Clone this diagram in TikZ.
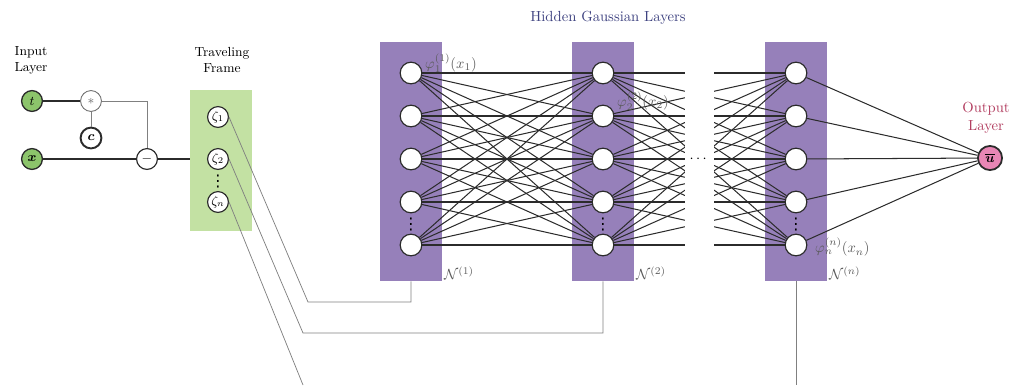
\documentclass[tikz,border=0pt]{standalone}
\usepackage{amsmath,amssymb,bm}
\usepackage{fontspec}
\newfontfamily\dotsfont{DejaVu Sans}
\usetikzlibrary{calc}
\definecolor{inpgreen}{HTML}{8CC46B}
\definecolor{framegreen}{HTML}{C3E1A3}
\definecolor{layerpurple}{HTML}{9680BA}
\definecolor{outpink}{HTML}{E886B5}
\definecolor{titlenavy}{HTML}{3E4280}
\definecolor{outred}{HTML}{B23E60}
\definecolor{linkgray}{HTML}{808080}
\definecolor{edgedark}{HTML}{2B2B2B}
\definecolor{lblgray}{HTML}{5A5A5A}

\begin{document}
\begin{tikzpicture}[
  x=0.24mm, y=-0.24mm,
  innode/.style={circle, draw=edgedark, line width=0.9pt, fill=inpgreen, minimum size=5.0mm, inner sep=0pt, font=\small},
  opnode/.style={circle, draw=edgedark, line width=0.8pt, fill=white, minimum size=5.0mm, inner sep=0pt, font=\small},
  zetanode/.style={circle, draw=edgedark, line width=0.8pt, fill=white, minimum size=5.0mm, inner sep=0pt, font=\small},
  hidnode/.style={circle, draw=edgedark, line width=0.8pt, fill=white, minimum size=5.2mm, inner sep=0pt},
  layerbox/.style={fill=layerpurple, draw=none, minimum width=14.9mm, minimum height=57.4mm, inner sep=0pt},
  hidedge/.style={edgedark, line width=0.7pt},
  linkline/.style={linkgray, line width=0.5pt},
  headlbl/.style={font=\small, align=center, text=black},
  philbl/.style={text=lblgray, inner sep=1pt},
  dotlbl/.style={inner sep=0pt, font=\dotsfont\fontsize{11}{11}\selectfont},
]

% Canvas
\useasboundingbox (0,0) rectangle (1021,385);

% Input layer
\node[headlbl] (inlbl) at (31,60) {Input\\Layer};
\node[innode] (t) at (32,101) {$t$};
\node[innode] (x) at (32,159) {$\boldsymbol{x}$};
\node[opnode, draw=edgedark!70, line width=0.6pt, text=black!60] (star) at (91,101) {$*$};
\node[opnode, line width=1.3pt] (c) at (91,138) {$\boldsymbol{c}$};
\node[opnode] (minus) at (147,159) {$-$};

\draw[hidedge] (t) -- (star);
\draw[linkline] (star) -- (c);
\draw[linkline] (star.east) -| (minus.north);
\draw[hidedge] (x) -- (minus);

% Traveling frame
\node[headlbl] (framelbl) at (222,60) {Traveling\\Frame};
\node[fill=framegreen, minimum width=14.9mm, minimum height=33.8mm, inner sep=0pt] (frame) at (221,160.5) {};
\draw[hidedge] (minus.east) -- (minus.east -| frame.west);
\node[zetanode] (z1) at (218,117) {$\zeta_1$};
\node[zetanode] (z2) at (218,159) {$\zeta_2$};
\node[zetanode] (zn) at (218,202) {$\zeta_n$};
\node[dotlbl] (zdots) at (218,181) {⋮};

% Hidden Gaussian layers
\node[text=titlenavy] (hidlbl) at (608,18) {Hidden Gaussian Layers};
\foreach \l/\xx in {1/411, 2/603, n/796} {
  \node[layerbox] (L\l) at (\xx,161.5) {};
  \foreach \i/\yy in {1/73, 2/116, 3/159, 4/202, 5/245}
    \node[hidnode] (h\l-\i) at (\xx,\yy) {};
  \node[dotlbl] (d\l) at (\xx,224) {⋮};
  \node[anchor=south west, inner sep=1pt, text=lblgray] (N\l) at (L\l.south east) {$\mathcal{N}^{(\l)}$};
}

% Full connections
\foreach \i in {1,...,5}
  \foreach \j in {1,...,5} {
    \draw[hidedge] (h1-\i) -- (h2-\j);
    \draw[hidedge] (h2-\i) -- (hn-\j);
  }

% Gap with dots
\node[fill=white, minimum width=7.0mm, minimum height=48mm, inner sep=0pt] (gap) at (699.5,159) {$\cdots$};

% Node labels
\node[philbl, anchor=west] (phi1) at ($(h1-1.east)+(1,-10)$) {$\varphi_1^{(1)}(x_1)$};
\node[philbl, anchor=west] (phi2) at ($(h2-2.east)+(1,-15)$) {$\varphi_2^{(2)}(x_2)$};
\node[philbl, anchor=west] (phin) at ($(hn-5.east)+(6,2)$) {$\varphi_n^{(n)}(x_n)$};

% Output layer
\node[text=outred, align=center] (outlbl) at (986,118) {Output\\Layer};
\node[circle, draw=edgedark, line width=1.2pt, fill=outpink, minimum size=5.8mm, inner sep=0pt, font=\small] (out) at (990,158) {$\overline{\boldsymbol{u}}$};
\foreach \i in {1,...,5}
  \draw[hidedge] (hn-\i) -- (out);

% Links from frame to layers
\coordinate (k1) at (308,302);
\coordinate (k2) at (303,333);
\coordinate (kn) at (303,385);
\coordinate (kb) at (796,385);
\draw[linkline] (z1.east) -- (k1) -| (L1.south);
\draw[linkline] (z2.east) -- (k2) -| (L2.south);
\draw[linkline] (zn.east) -- (kn);
\draw[linkline] (Ln.south) -- (kb);

\end{tikzpicture}
\end{document}
